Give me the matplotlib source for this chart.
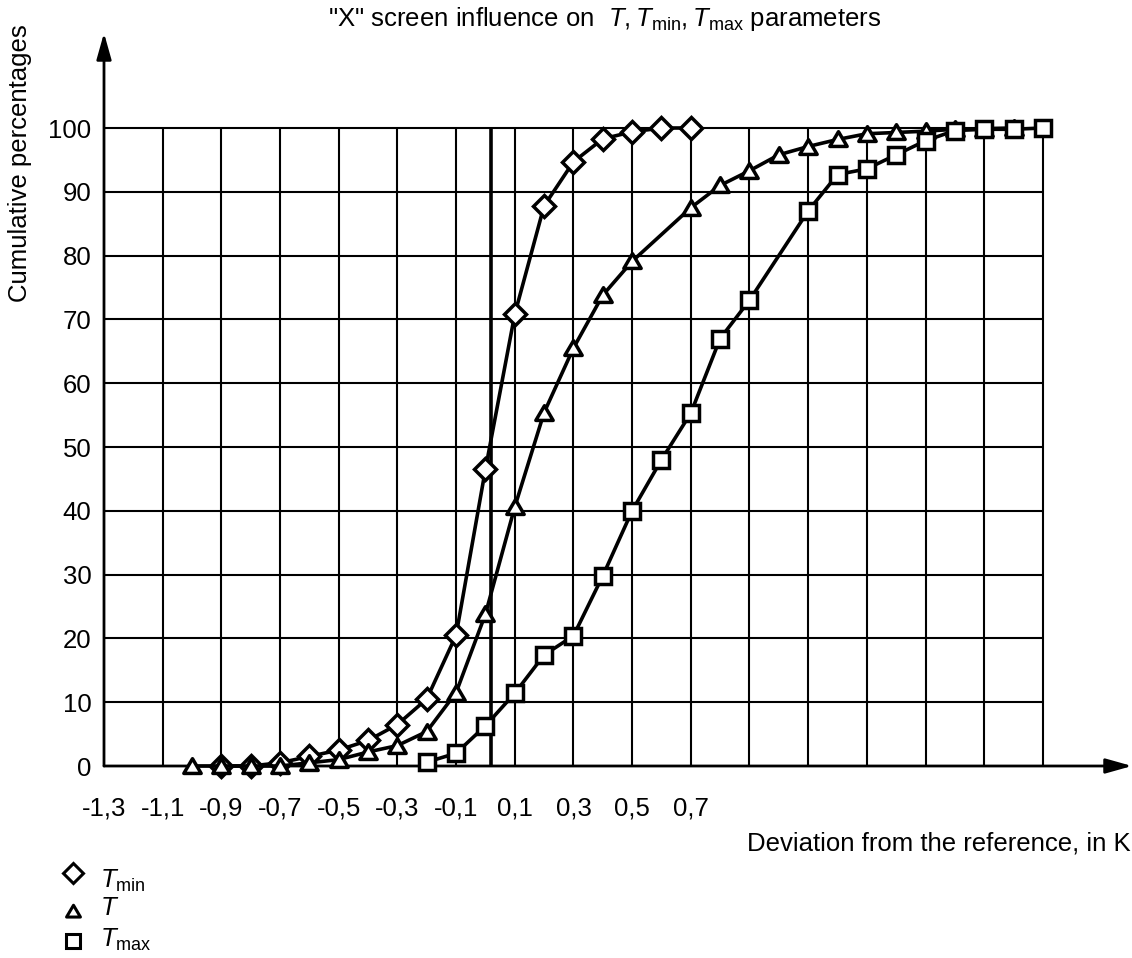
import matplotlib
matplotlib.use('Agg')
import matplotlib.pyplot as plt
from matplotlib.lines import Line2D
from matplotlib.path import Path

plt.rcParams['font.family'] = ['Liberation Sans', 'DejaVu Sans']
plt.rcParams['mathtext.fontset'] = 'custom'
plt.rcParams['mathtext.rm'] = 'Liberation Sans'
plt.rcParams['mathtext.it'] = 'Liberation Sans:italic'

# Данные
x_tmin = [-0.9, -0.8, -0.7, -0.6, -0.5, -0.4, -0.3, -0.2, -0.1, 0.0,
          0.1, 0.2, 0.3, 0.4, 0.5, 0.6, 0.7]
y_tmin = [0, 0, 0.5, 1.5, 2.5, 4, 6.5, 10.5, 20.5, 46.5,
          70.8, 87.8, 94.7, 98.3, 99.4, 100, 100]

x_t = [-1.0, -0.9, -0.8, -0.7, -0.6, -0.5, -0.4, -0.3, -0.2, -0.1, 0.0,
       0.1, 0.2, 0.3, 0.4, 0.5, 0.7, 0.8, 0.9, 1.0, 1.1, 1.2, 1.3, 1.4,
       1.5, 1.6, 1.7, 1.8]
y_t = [0, 0, 0, 0, 0.5, 1, 2.2, 3.2, 5.4, 11.5, 23.8,
       40.6, 55.4, 65.5, 73.8, 79.1, 87.5, 91, 93.3, 95.8, 97.1, 98.2, 99.1, 99.3,
       99.5, 99.8, 99.9, 100]

x_tmax = [-0.2, -0.1, 0.0, 0.1, 0.2, 0.3, 0.4, 0.5, 0.6, 0.7, 0.8, 0.9,
          1.1, 1.2, 1.3, 1.4, 1.5, 1.6, 1.7, 1.8, 1.9]
y_tmax = [0.6, 2, 6.3, 11.4, 17.4, 20.4, 29.8, 40, 48, 55.3, 67, 73,
          87, 92.7, 93.6, 95.8, 98, 99.6, 99.8, 99.8, 100]

xtick_vals = [-1.3, -1.1, -0.9, -0.7, -0.5, -0.3, -0.1, 0.1, 0.3, 0.5, 0.7]
xtick_labels = ['-1,3', '-1,1', '-0,9', '-0,7', '-0,5', '-0,3', '-0,1',
                '0,1', '0,3', '0,5', '0,7']
ytick_vals = [0, 10, 20, 30, 40, 50, 60, 70, 80, 90, 100]

W, H = 1132, 958
FS = 18.5
fig = plt.figure(figsize=(W / 100, H / 100), dpi=100)
ax = fig.add_axes([104 / W, (H - 766) / H, (W - 104) / W, (766 - 33) / H])
x0, x1 = -1.3, 1.9
ax.set_xlim(x0, x0 + (W - 104) / 293.4)
ax.set_ylim(0, (766 - 33) / 6.38)
for s in ax.spines.values():
    s.set_visible(False)

# сетка
vgrid = [x0 + 0.2 * i for i in range(17)]
ax.vlines(vgrid[1:], 0, 100, color='black', lw=1.5, zorder=1)
ax.hlines(ytick_vals[1:], x0, x1, color='black', lw=1.5, zorder=1)
ax.vlines([0.02], 0, 100, color='black', lw=2.6, zorder=1)

# оси со стрелками
arrow = dict(arrowstyle='-|>,head_length=1.6,head_width=0.45', lw=2.0,
             color='black', shrinkA=0, shrinkB=0)
ax.annotate('', xy=(x0, ax.get_ylim()[1]), xytext=(x0, 0), arrowprops=arrow,
            annotation_clip=False)
ax.annotate('', xy=(ax.get_xlim()[1], 0), xytext=(x0, 0), arrowprops=arrow,
            annotation_clip=False)

tri = Path([(-1, -0.8), (1, -0.8), (0, 0.9), (-1, -0.8)], closed=True)
style = dict(color='black', lw=2.6, mfc='white', mec='black', mew=2.5, zorder=3,
             clip_on=False)
ax.plot(x_tmin, y_tmin, marker='D', ms=11.5, **style)
ax.plot(x_t, y_t, marker=tri, ms=12.5, **style)
ax.plot(x_tmax, y_tmax, marker='s', ms=11, **style)

ax.set_xticks(xtick_vals)
ax.set_xticklabels(xtick_labels)
ax.set_yticks(ytick_vals)
ax.tick_params(length=0, labelsize=FS)
ax.tick_params(axis='x', pad=22)
ax.tick_params(axis='y', pad=9)

fig.text(605 / W, 1 - 19 / H,
         '"X" screen influence on  $T, T_{\\mathrm{min}}, T_{\\mathrm{max}}$ parameters',
         ha='center', va='center', fontsize=FS)
fig.text(1 - 1 / W, 1 - 843 / H, 'Deviation from the reference, in K',
         ha='right', va='center', fontsize=FS)
fig.text(20 / W, 1 - 163 / H, 'Cumulative percentages', rotation=90,
         ha='center', va='center', fontsize=FS)

# легенда
leg_items = [('D', 10.5, '$T_{\\mathrm{min}}$', 873, 888),
             (tri, 10, '$T$', 911, 915),
             ('s', 9.5, '$T_{\\mathrm{max}}$', 941, 947)]
for m, ms, lab, ym, yt in leg_items:
    fig.add_artist(Line2D([73 / W], [1 - ym / H], marker=m, ms=ms, mfc='white',
                          mec='black', mew=2.2, ls='none',
                          transform=fig.transFigure))
    fig.text(100 / W, 1 - yt / H, lab, ha='left', va='baseline', fontsize=FS)

fig.savefig('out.png', dpi=100)
